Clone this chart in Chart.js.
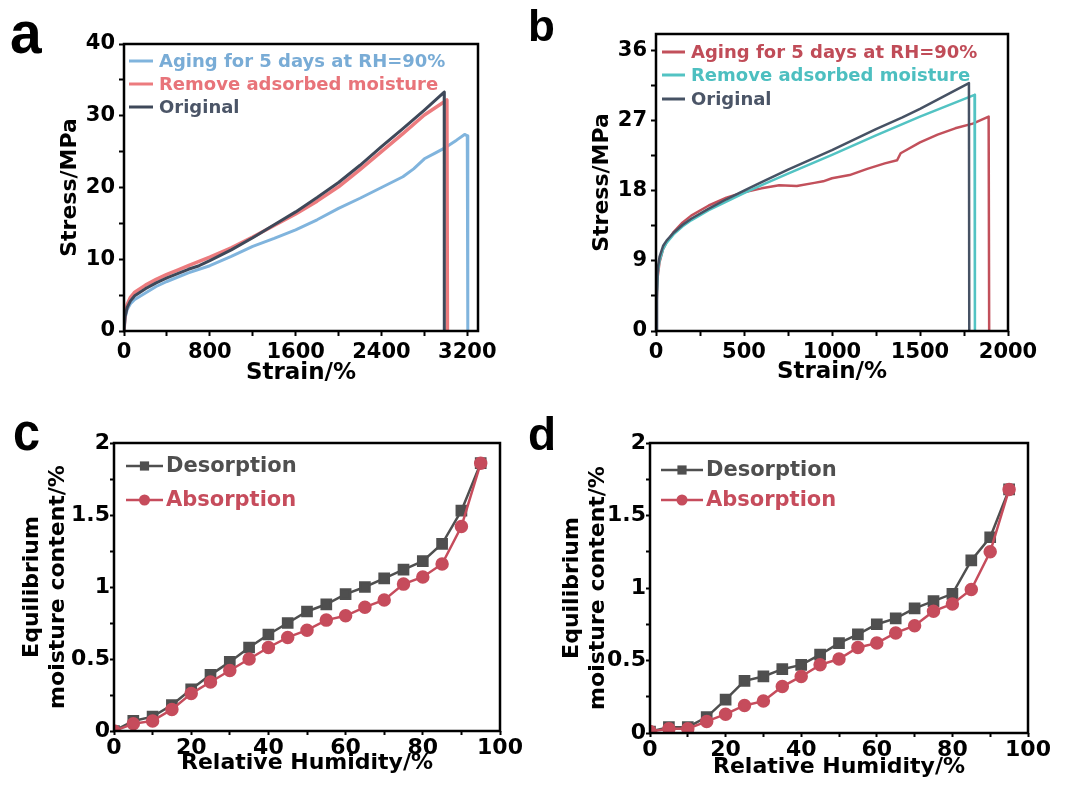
<!DOCTYPE html>
<html>
<head>
<meta charset="utf-8">
<script src="https://cdn.jsdelivr.net/npm/chart.js@4.4.1/dist/chart.umd.min.js"></script>
<style>
body { margin: 0; background: #fff; }
#wrap { position: relative; width: 1069px; height: 787px; overflow: hidden; background: #fff; }
canvas { position: absolute; }
.lbl { position: absolute; font-family: 'Liberation Sans', Arial, sans-serif; font-weight: bold; line-height: 1; color: #000; transform-origin: left top; }
</style>
</head>
<body>
<div id="wrap">
  <canvas id="chartA" width="530" height="395" style="left:0;top:0"></canvas>
  <canvas id="chartB" width="539" height="395" style="left:530px;top:0"></canvas>
  <canvas id="chartC" width="530" height="392" style="left:0;top:395px"></canvas>
  <canvas id="chartD" width="539" height="392" style="left:530px;top:395px"></canvas>
  <div class="lbl" style="left:10px;top:3px;font-size:60px;transform:scaleX(0.95)">a</div>
  <div class="lbl" style="left:528px;top:4px;font-size:44px">b</div>
  <div class="lbl" style="left:13px;top:404px;font-size:54px;transform:scaleX(0.9)">c</div>
  <div class="lbl" style="left:528px;top:411px;font-size:46px">d</div>
</div>
<script>
Chart.defaults.font.family = "'DejaVu Sans', sans-serif";
Chart.defaults.font.weight = 'bold';
Chart.defaults.color = '#000';
Chart.defaults.animation = false;

// ---- panel a : stress-strain ----
const aAgingX = [0, 10, 30, 60, 100, 200, 300, 400, 600, 800, 1000, 1200, 1400, 1600, 1800, 2000, 2200, 2400, 2600, 2700, 2800, 2900, 3000, 3100, 3175, 3200, 3205];
const aAgingY = [0, 1.8, 3.0, 3.8, 4.4, 5.3, 6.2, 6.9, 8.1, 9.1, 10.4, 11.8, 12.9, 14.1, 15.5, 17.1, 18.5, 20.0, 21.5, 22.6, 24.0, 24.8, 25.6, 26.6, 27.4, 27.2, 0];
const aRemoveX = [0, 10, 30, 60, 100, 200, 300, 400, 500, 600, 700, 800, 1000, 1200, 1400, 1600, 1800, 2000, 2200, 2400, 2600, 2800, 3010, 3015];
const aRemoveY = [0, 2.3, 3.7, 4.7, 5.4, 6.4, 7.2, 7.9, 8.5, 9.1, 9.7, 10.3, 11.6, 13.1, 14.7, 16.3, 18.1, 20.1, 22.5, 25.0, 27.5, 30.1, 32.2, 0];
const aOrigX = [0, 10, 30, 60, 100, 200, 300, 400, 500, 600, 700, 800, 1000, 1200, 1400, 1600, 1800, 2000, 2200, 2400, 2600, 2800, 2985, 2986];
const aOrigY = [0, 2.0, 3.3, 4.2, 4.9, 5.9, 6.7, 7.4, 8.0, 8.6, 9.1, 9.8, 11.3, 13.0, 14.8, 16.6, 18.6, 20.7, 23.1, 25.7, 28.2, 30.8, 33.3, 0];

// ---- panel b : stress-strain ----
const bAgingX = [0, 5, 10, 20, 40, 60, 100, 150, 200, 300, 400, 500, 600, 700, 800, 900, 950, 1000, 1100, 1200, 1300, 1370, 1390, 1500, 1600, 1700, 1800, 1890, 1893];
const bAgingY = [0, 4, 7.0, 8.8, 10.5, 11.4, 12.7, 13.9, 14.8, 16.1, 17.1, 17.8, 18.3, 18.7, 18.6, 19.0, 19.2, 19.6, 20.0, 20.8, 21.5, 21.9, 22.8, 24.2, 25.2, 26.0, 26.6, 27.5, 0];
const bRemoveX = [0, 5, 10, 20, 40, 60, 100, 150, 200, 300, 400, 500, 600, 750, 1000, 1250, 1500, 1810, 1812];
const bRemoveY = [0, 4.5, 7.5, 9.0, 10.5, 11.3, 12.4, 13.4, 14.2, 15.5, 16.6, 17.7, 18.7, 20.2, 22.6, 25.1, 27.5, 30.3, 0];
const bOrigX = [0, 5, 10, 20, 40, 60, 100, 150, 200, 300, 400, 500, 600, 750, 1000, 1250, 1400, 1500, 1778, 1780];
const bOrigY = [0, 5, 8.0, 9.5, 10.9, 11.6, 12.6, 13.6, 14.4, 15.7, 16.9, 18.0, 19.1, 20.7, 23.2, 25.9, 27.4, 28.5, 31.8, 0];

// ---- panels c, d : sorption isotherms ----
const humidity = [0, 5, 10, 15, 20, 25, 30, 35, 40, 45, 50, 55, 60, 65, 70, 75, 80, 85, 90, 95];
const cDesorption = [0, 0.07, 0.10, 0.18, 0.29, 0.39, 0.48, 0.58, 0.67, 0.75, 0.83, 0.88, 0.95, 1.00, 1.06, 1.12, 1.18, 1.30, 1.53, 1.86];
const cAbsorption = [0, 0.05, 0.07, 0.15, 0.26, 0.34, 0.42, 0.50, 0.58, 0.65, 0.70, 0.77, 0.80, 0.86, 0.91, 1.02, 1.07, 1.16, 1.42, 1.86];
const dDesorption = [0.01, 0.04, 0.04, 0.11, 0.23, 0.36, 0.39, 0.44, 0.47, 0.54, 0.62, 0.68, 0.75, 0.79, 0.86, 0.91, 0.96, 1.19, 1.35, 1.68];
const dAbsorption = [0.01, 0.03, 0.03, 0.08, 0.13, 0.19, 0.22, 0.32, 0.39, 0.47, 0.51, 0.59, 0.62, 0.69, 0.74, 0.84, 0.89, 0.99, 1.25, 1.68];

function pts(xs, ys) {
    return xs.map(function(x, i) { return { x: x, y: ys[i] }; });
}

function onStep(v, step) {
    const r = v / step;
    return Math.abs(r - Math.round(r)) < 1e-6;
}

// box round the plot area + legend inside it
const framePlugin = {
    id: 'frame',
    afterDraw(chart, args, opts) {
        const ctx = chart.ctx;
        const a = chart.chartArea;
        ctx.save();
        ctx.strokeStyle = '#000';
        ctx.lineWidth = 2.5;
        ctx.strokeRect(a.left, a.top, a.right - a.left, a.bottom - a.top);

        const lg = opts.legend;
        ctx.font = 'bold ' + lg.size + "px 'DejaVu Sans'";
        ctx.textBaseline = 'middle';
        chart.data.datasets.forEach(function(ds, i) {
            const y = lg.rows[i];
            ctx.strokeStyle = ds.borderColor;
            ctx.lineWidth = lg.lw;
            ctx.beginPath();
            ctx.moveTo(lg.x0, y);
            ctx.lineTo(lg.x1, y);
            ctx.stroke();
            if (lg.marker) {
                const mx = (lg.x0 + lg.x1) / 2;
                ctx.fillStyle = ds.pointBackgroundColor;
                ctx.beginPath();
                if (ds.pointStyle === 'rect') {
                    const s = ds.pointRadius * Math.SQRT1_2;
                    ctx.rect(mx - s, y - s, 2 * s, 2 * s);
                } else {
                    ctx.arc(mx, y, ds.pointRadius, 0, Math.PI * 2);
                }
                ctx.fill();
            }
            ctx.fillStyle = ds.textColor || ds.borderColor;
            ctx.fillText(ds.label, lg.tx, y + 1);
        });
        ctx.restore();
    }
};

function axis(o) {
    return {
        type: 'linear',
        position: o.pos,
        min: o.min,
        max: o.max,
        border: { display: false },
        grid: { drawOnChartArea: false, drawTicks: true, tickLength: o.tickLen, tickWidth: 2, tickColor: '#000' },
        ticks: {
            stepSize: o.step,
            padding: o.pad,
            autoSkip: false,
            maxRotation: 0,
            color: '#000',
            font: { size: o.size, weight: 'bold' },
            callback: function(v) { return onStep(v, o.major) ? String(+v.toFixed(2)) : ''; }
        },
        // every step from min up to max, major ones get a label
        afterBuildTicks: function(s) {
            const list = [];
            for (let k = 0; o.min + k * o.step <= o.max + 1e-9; k++) {
                list.push({ value: +(o.min + k * o.step).toFixed(4) });
            }
            s.ticks = list;
        },
        afterFit: function(s) {
            if (o.pos === 'left') s.width = o.fit; else s.height = o.fit;
        },
        title: {
            display: true,
            text: o.title,
            color: '#000',
            font: { size: o.titleSize, weight: 'bold' },
            padding: o.titlePad
        }
    };
}

function lineSet(label, xs, ys, color, width, order, textColor) {
    return {
        label: label,
        data: pts(xs, ys),
        borderColor: color,
        textColor: textColor,
        borderWidth: width,
        borderJoinStyle: 'round',
        pointRadius: 0,
        tension: 0,
        fill: false,
        order: order
    };
}

function markerSet(label, ys, color, style, radius, order) {
    return {
        label: label,
        data: pts(humidity, ys),
        borderColor: color,
        backgroundColor: color,
        pointBackgroundColor: color,
        pointBorderColor: color,
        pointStyle: style,
        pointRadius: radius,
        borderWidth: 2.5,
        tension: 0,
        fill: false,
        order: order
    };
}

function makeChart(id, datasets, pad, xAxis, yAxis, legend) {
    return new Chart(document.getElementById(id), {
        type: 'line',
        data: { datasets: datasets },
        options: {
            responsive: false,
            animation: false,
            layout: { padding: pad },
            plugins: { legend: { display: false }, tooltip: { enabled: false }, frame: { legend: legend } },
            scales: { x: xAxis, y: yAxis }
        },
        plugins: [framePlugin]
    });
}

// a
makeChart('chartA', [
    lineSet('Aging for 5 days at RH=90%', aAgingX, aAgingY, '#80b4dd', 3, 2, '#79acd6'),
    lineSet('Remove adsorbed moisture', aRemoveX, aRemoveY, '#ec7b7e', 3.5, 1, '#e8747a'),
    lineSet('Original', aOrigX, aOrigY, '#3e4859', 3, 0, '#4b5567')
], { left: 0, top: 44, right: 52, bottom: 0 },
    axis({ pos: 'bottom', min: 0, max: 3300, step: 400, major: 800, size: 21, pad: 4, tickLen: 5, fit: 64, title: 'Strain/%', titleSize: 23, titlePad: { top: 0, bottom: 8 } }),
    axis({ pos: 'left', min: 0, max: 40, step: 5, major: 10, size: 21, pad: 4, tickLen: 5, fit: 124, title: 'Stress/MPa', titleSize: 22, titlePad: { top: 57, bottom: 0 } }),
    { x0: 129, x1: 153, tx: 159, rows: [61, 84, 107], size: 18, lw: 3, marker: false }
);

// b
makeChart('chartB', [
    lineSet('Aging for 5 days at RH=90%', bAgingX, bAgingY, '#c2505b', 2.5, 2, '#c04c58'),
    lineSet('Remove adsorbed moisture', bRemoveX, bRemoveY, '#52c3c3', 2.5, 1, '#4dbfc0'),
    lineSet('Original', bOrigX, bOrigY, '#465264', 2.5, 0, '#4b5567')
], { left: 0, top: 34, right: 61, bottom: 0 },
    axis({ pos: 'bottom', min: 0, max: 2000, step: 250, major: 500, size: 21, pad: 4, tickLen: 5, fit: 64, title: 'Strain/%', titleSize: 23, titlePad: { top: 0, bottom: 9 } }),
    axis({ pos: 'left', min: 0, max: 38.1, step: 4.5, major: 9, size: 21, pad: 4, tickLen: 5, fit: 126, title: 'Stress/MPa', titleSize: 22, titlePad: { top: 59, bottom: 0 } }),
    { x0: 132, x1: 155, tx: 161, rows: [52, 75, 99], size: 18, lw: 3, marker: false }
);

// c
makeChart('chartC', [
    markerSet('Desorption', cDesorption, '#4f4f4f', 'rect', 6.5, 1),
    markerSet('Absorption', cAbsorption, '#c64c5c', 'circle', 5.5, 0)
], { left: 0, top: 48, right: 30, bottom: 0 },
    axis({ pos: 'bottom', min: 0, max: 100, step: 10, major: 20, size: 22, pad: 0, tickLen: 4, fit: 56, title: 'Relative Humidity/%', titleSize: 22, titlePad: { top: 0, bottom: 11 } }),
    axis({ pos: 'left', min: 0, max: 2, step: 0.25, major: 0.5, size: 22, pad: 0, tickLen: 4, fit: 114, title: ['Equilibrium', 'moisture content/%'], titleSize: 22, titlePad: { top: 19, bottom: 0 } }),
    { x0: 126, x1: 163, tx: 166, rows: [71, 105], size: 21, lw: 2.5, marker: true }
);

// d
makeChart('chartD', [
    markerSet('Desorption', dDesorption, '#4f4f4f', 'rect', 6.5, 1),
    markerSet('Absorption', dAbsorption, '#c64c5c', 'circle', 5.5, 0)
], { left: 0, top: 48, right: 41, bottom: 0 },
    axis({ pos: 'bottom', min: 0, max: 100, step: 10, major: 20, size: 22, pad: 0, tickLen: 4, fit: 54, title: 'Relative Humidity/%', titleSize: 22, titlePad: { top: 0, bottom: 7 } }),
    axis({ pos: 'left', min: 0, max: 2, step: 0.25, major: 0.5, size: 22, pad: 0, tickLen: 4, fit: 120, title: ['Equilibrium', 'moisture content/%'], titleSize: 22, titlePad: { top: 29, bottom: 0 } }),
    { x0: 131, x1: 173, tx: 176, rows: [75, 105], size: 21, lw: 2.5, marker: true }
);
</script>
</body>
</html>
